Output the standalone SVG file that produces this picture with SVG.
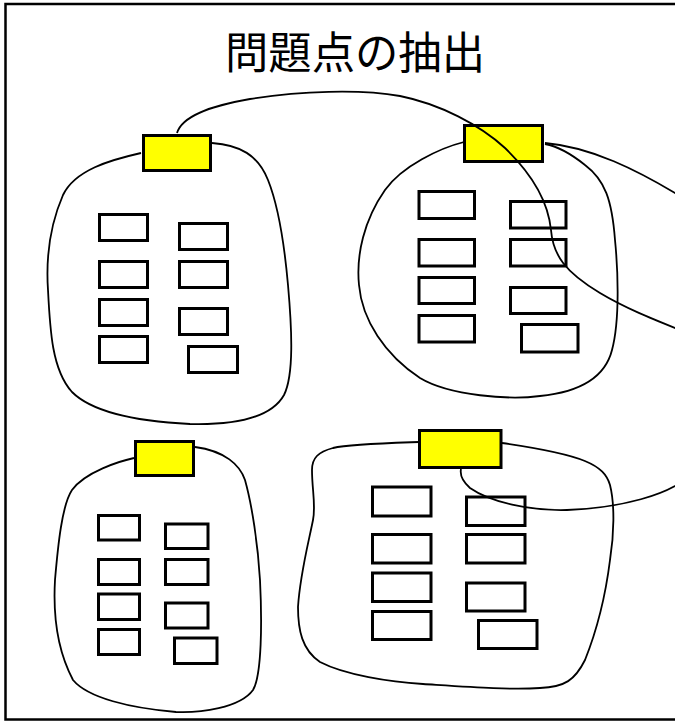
<svg xmlns="http://www.w3.org/2000/svg" width="675" height="721" viewBox="0 0 675 721">
<style>
.frame{fill:none;stroke:#000;stroke-width:2.5}
.blob{fill:none;stroke:#000;stroke-width:1.8}
.head{fill:#ffff00;stroke:#000;stroke-width:3}
.card{fill:#fff;stroke:#000;stroke-width:3}
.conn{fill:none;stroke:#000;stroke-width:1.8}
.title{font-family:"Noto Sans CJK JP","Noto Sans CJK SC",sans-serif;font-size:44px;fill:#000}
</style>
<rect x="0" y="0" width="675" height="721" fill="#fff"/>
<rect class="frame" x="5.5" y="4" width="700" height="715.5"/>
<text class="title" x="355" y="68.5" text-anchor="middle" textLength="260" lengthAdjust="spacingAndGlyphs">問題点の抽出</text>

<g id="group-top-left">
<path class="blob" d="M141,153 C110,160 75,170 63,195 C50,225 46,260 48,290 C50,330 52,370 72,392 C95,415 150,422 190,424 C230,425 270,420 284,395 C294,375 292,330 288,285 C284,240 278,205 268,180 C258,155 240,145 212,143"/>
<rect class="head" x="143.5" y="135.5" width="67" height="35"/>
<rect class="card" x="99.5" y="214.5" width="48" height="26"/>
<rect class="card" x="99.5" y="261.5" width="48" height="26"/>
<rect class="card" x="99.5" y="299.5" width="48" height="26"/>
<rect class="card" x="99.5" y="336.5" width="48" height="26"/>
<rect class="card" x="179.5" y="223.5" width="48" height="26"/>
<rect class="card" x="179.5" y="261.5" width="48" height="26"/>
<rect class="card" x="179.5" y="308.5" width="48" height="26"/>
<rect class="card" x="188.5" y="346.5" width="49" height="26"/>
</g>

<g id="group-top-right">
<path class="blob" d="M464,142 C440,148 402,166 385,190 C364,220 356,255 359,285 C362,320 385,355 420,378 C450,396 510,400 540,396 C580,392 605,378 612,350 C620,320 618,270 615,240 C612,200 605,180 585,165 C570,153 556,146 545,144"/>
<rect class="head" x="464.5" y="125.5" width="78" height="36"/>
<rect class="card" x="419" y="191.5" width="55.5" height="27"/>
<rect class="card" x="419" y="239.5" width="55.5" height="26.5"/>
<rect class="card" x="419" y="277.5" width="55.5" height="26"/>
<rect class="card" x="419" y="315.5" width="55.5" height="26.5"/>
<rect class="card" x="510.5" y="201.5" width="55.5" height="26.5"/>
<rect class="card" x="510.5" y="239.5" width="55.5" height="26.5"/>
<rect class="card" x="510.5" y="287.5" width="55.5" height="26"/>
<rect class="card" x="521.5" y="324.5" width="56.5" height="27.5"/>
</g>

<g id="group-bottom-left">
<path class="blob" d="M134,458 C120,461 85,472 72,490 C62,505 58,545 55,580 C53,615 57,650 73,680 C88,698 130,708 176,712 C200,713 240,708 253,690 C262,675 262,620 260,580 C258,545 252,505 245,480 C240,465 225,451 195,447"/>
<rect class="head" x="135.5" y="441.5" width="58" height="34"/>
<rect class="card" x="98.5" y="515.5" width="41" height="24.5"/>
<rect class="card" x="98.5" y="559.5" width="41" height="25"/>
<rect class="card" x="98.5" y="594" width="41" height="25.5"/>
<rect class="card" x="98.5" y="629.5" width="41" height="25"/>
<rect class="card" x="165.5" y="524" width="42.5" height="24.5"/>
<rect class="card" x="165.5" y="559.5" width="42.5" height="25"/>
<rect class="card" x="165.5" y="603" width="42.5" height="25"/>
<rect class="card" x="174.5" y="638" width="42.5" height="25.5"/>
</g>

<g id="group-bottom-right">
<path class="blob" d="M419,442 C390,443 350,444 333,448 C318,452 312,458 312,470 C312,490 316,505 313,520 C308,545 300,575 298,607 C298,630 302,650 320,662 C345,675 390,682 423,684 C470,687 510,690 540,688 C565,687 575,680 585,660 C595,635 605,600 610,560 C614,535 615,505 610,485 C604,465 585,455 502,443"/>
<rect class="head" x="419.5" y="430.5" width="81.5" height="37"/>
<rect class="card" x="372.5" y="487" width="58.5" height="29"/>
<rect class="card" x="372.5" y="534.5" width="58.5" height="28.5"/>
<rect class="card" x="372.5" y="573" width="58.5" height="28.5"/>
<rect class="card" x="372.5" y="611.5" width="58.5" height="28"/>
<rect class="card" x="466.5" y="497" width="58.5" height="28.5"/>
<rect class="card" x="466.5" y="534.5" width="58.5" height="28.5"/>
<rect class="card" x="466.5" y="583" width="58.5" height="28"/>
<rect class="card" x="478.5" y="620.5" width="58.5" height="28"/>
</g>

<g id="connectors">
<path class="conn" d="M177,133 C182,116 210,106 250,99 C300,91 360,89 400,96 C440,104 480,125 505,148 C530,172 548,200 551,230 C553,255 565,272 600,293 C625,308 650,318 690,334 C730,350 730,460 690,475 C670,495 620,508 567,510 C530,511 490,502 470,488 C462,481 460,474 461,469"/>
<path class="conn" d="M545,143 C590,147 635,168 690,202"/>
</g>
</svg>
